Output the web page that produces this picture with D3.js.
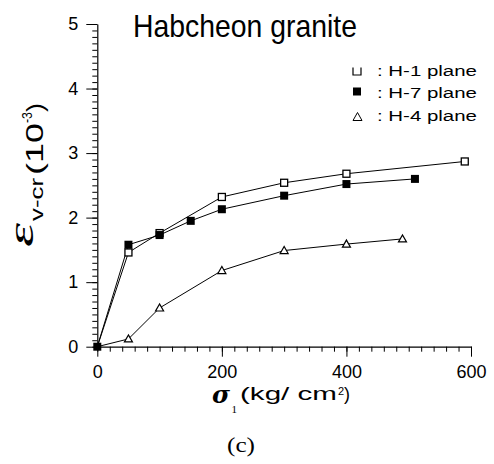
<!DOCTYPE html>
<html>
<head>
<meta charset="utf-8">
<script src="https://d3js.org/d3.v7.min.js"></script>
<style>
  body { margin: 0; background: #fff; }
  svg { display: block; }
</style>
</head>
<body>
<svg id="chart"></svg>
<script>
// data
const stressH1 = [0, 50, 100, 200, 300, 400, 590];
const strainH1 = [0, 1.46, 1.76, 2.32, 2.54, 2.68, 2.87];
const stressH7 = [0, 50, 100, 150, 200, 300, 400, 510];
const strainH7 = [0, 1.58, 1.73, 1.95, 2.13, 2.34, 2.52, 2.60];
const stressH4 = [0, 50, 100, 200, 300, 400, 490];
const strainH4 = [0, 0.12, 0.60, 1.18, 1.49, 1.59, 1.67];
const xTicks = [0, 200, 400, 600];
const yTicks = [0, 1, 2, 3, 4, 5];
const legendLabels = [": H-1 plane", ": H-7 plane", ": H-4 plane"];

const width = 494, height = 464;
const sans = "Arial, 'Liberation Sans', sans-serif";
const serif = "'Liberation Serif', 'DejaVu Serif', serif";

var svg = d3.select("#chart")
    .attr("width", width)
    .attr("height", height);

var xScale = d3.scaleLinear().domain([0, 600]).range([97.3, 471]);
var yScale = d3.scaleLinear().domain([0, 5]).range([346.7, 24]);

// y axis: ticks outward to the left, minor every 0.1
var yMinor = d3.range(0, 5.0001, 0.1).map(d => +d.toFixed(1));
svg.append("g")
    .attr("transform", `translate(${xScale(0)},0)`)
    .call(d3.axisLeft(yScale).tickValues(yMinor).tickSize(5).tickFormat("").tickSizeOuter(0))
    .call(g => g.select(".domain").attr("stroke-width", 1.2));
svg.append("g")
    .attr("transform", `translate(${xScale(0)},0)`)
    .call(d3.axisLeft(yScale).tickValues(yTicks).tickSize(11).tickPadding(8)
        .tickFormat(d3.format("d")).tickSizeOuter(0))
    .call(g => g.select(".domain").remove())
    .call(g => g.selectAll("text").attr("font-size", 18).attr("font-family", sans).attr("fill", "#000"));

// x axis: ticks downward, minor every 20
var xMinor = d3.range(0, 601, 20);
svg.append("g")
    .attr("transform", `translate(0,${yScale(0)})`)
    .call(d3.axisBottom(xScale).tickValues(xMinor).tickSize(5).tickFormat("").tickSizeOuter(0))
    .call(g => g.select(".domain").attr("stroke-width", 1.2));
svg.append("g")
    .attr("transform", `translate(0,${yScale(0)})`)
    .call(d3.axisBottom(xScale).tickValues(xTicks).tickSize(10).tickPadding(9)
        .tickFormat(d3.format("d")).tickSizeOuter(0))
    .call(g => g.select(".domain").remove())
    .call(g => g.selectAll("text").attr("font-size", 18).attr("font-family", sans).attr("fill", "#000"));

svg.selectAll(".tick line").attr("stroke", "#000");

// series
var line = d3.line().x(d => xScale(d[0])).y(d => yScale(d[1]));
var series = [
    {x: stressH1, y: strainH1, type: "open"},
    {x: stressH7, y: strainH7, type: "filled"},
    {x: stressH4, y: strainH4, type: "tri"}
];

series.forEach(s => {
    var pts = s.x.map((v, i) => [v, s.y[i]]);
    svg.append("path")
        .datum(pts)
        .attr("d", line)
        .attr("fill", "none")
        .attr("stroke", "#000")
        .attr("stroke-width", 1);
});

// markers drawn after all lines so filled ones sit on top
function drawMarker(g, type, cx, cy) {
    if (type === "open") {
        g.append("rect").attr("x", cx - 3.5).attr("y", cy - 3.5)
            .attr("width", 7).attr("height", 7)
            .attr("fill", "#fff").attr("stroke", "#000").attr("stroke-width", 1.3);
    } else if (type === "filled") {
        g.append("rect").attr("x", cx - 4).attr("y", cy - 4)
            .attr("width", 8).attr("height", 8).attr("fill", "#000");
    } else {
        g.append("path")
            .attr("d", `M${cx - 4},${cy + 3}L${cx + 4},${cy + 3}L${cx},${cy - 4}Z`)
            .attr("fill", "#fff").attr("stroke", "#000").attr("stroke-width", 1.2);
    }
}
var marks = svg.append("g");
[series[2], series[0], series[1]].forEach(s => {
    s.x.forEach((v, i) => {
        if (v === 0 && s.type !== "filled") return;
        drawMarker(marks, s.type, xScale(v), yScale(s.y[i]));
    });
});

// text placed at (x,y), stretched horizontally to a target length
function fitText(str, x, y, len, size, fam, opts) {
    opts = opts || {};
    var t = svg.append("text")
        .attr("font-family", fam).attr("font-size", size)
        .attr("font-style", opts.style || "normal")
        .attr("font-weight", opts.weight || "normal")
        .text(str);
    var k = len ? len / t.node().getComputedTextLength() : 1;
    var rot = opts.rotate ? ` rotate(${opts.rotate})` : "";
    t.attr("transform", `translate(${x},${y})${rot} scale(${k},1)`);
    return t;
}

// title
fitText("Habcheon granite", 133, 37, 224, 31, sans);

// legend
var legY = [76, 97.5, 121];
var lg = svg.append("g");
lg.append("path")
    .attr("d", "M353,67.5V75H361V67.5")
    .attr("fill", "none").attr("stroke", "#000").attr("stroke-width", 1.2);
lg.append("rect").attr("x", 353).attr("y", 87.5).attr("width", 8).attr("height", 8).attr("fill", "#000");
lg.append("path").attr("d", "M353,120.5L362,120.5L357.5,112.5Z")
    .attr("fill", "none").attr("stroke", "#000").attr("stroke-width", 1);
legendLabels.forEach((d, i) => fitText(d, 377, legY[i], 100, 15, sans));

// y axis label (rotated pieces)
fitText("\u03B5", 33, 247, 24, 36, serif, {style: "italic", rotate: -90});
fitText("v-cr", 43, 221, 43, 19, sans, {rotate: -90});
fitText("(10", 43, 175, 52, 23, sans, {rotate: -90});
fitText("-3", 32, 123, 11, 14, sans, {rotate: -90});
fitText(")", 43, 112, 9, 23, sans, {rotate: -90});

// x axis label
fitText("\u03C3", 212, 403, 18, 24, "'DejaVu Serif', serif", {style: "italic", weight: "bold"});
fitText("1", 231.5, 413, 0, 11, serif);
fitText("(kg/ cm", 240, 400, 97, 18, sans);
fitText("2", 338, 395, 0, 11, sans);
fitText(")", 344, 400, 0, 18, sans);

// panel caption
fitText("(c)", 227, 452, 28, 20, serif);
</script>
</body>
</html>
